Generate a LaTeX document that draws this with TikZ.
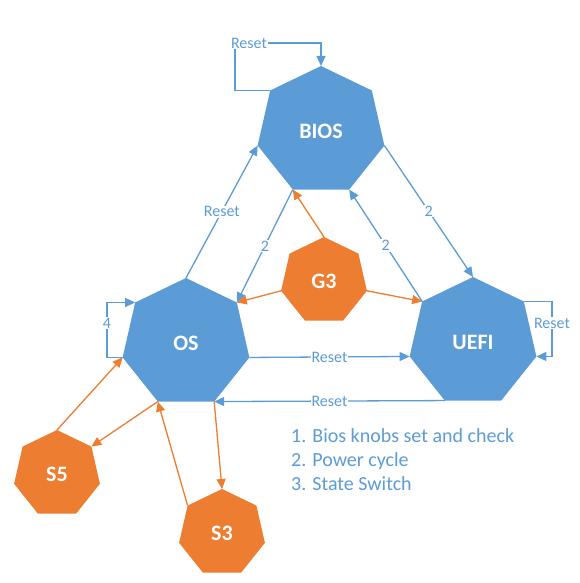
\documentclass[tikz,border=0pt]{standalone}
\usepackage{fontspec}
\setmainfont{Carlito}
\usepackage{tikz}
\usetikzlibrary{shapes.geometric,arrows.meta}
\definecolor{blue}{rgb}{0.36,0.61,0.84}
\definecolor{orange}{rgb}{0.93,0.49,0.19}

\begin{document}
\begin{tikzpicture}[x=1pt, y=-1pt,
  heptagon/.style={regular polygon, regular polygon sides=7, inner sep=0pt, outer sep=0pt, text=white, font=\fontsize{22}{26}\selectfont\bfseries},
  bstate/.style={heptagon, fill=blue, minimum size=130pt},
  ostate/.style={heptagon, fill=orange, minimum size=88pt},
  bline/.style={draw=blue, line width=1.3pt, -{Triangle[length=10pt,width=9pt]}},
  oline/.style={bline, draw=orange},
  lbl/.style={fill=white, text=blue, inner sep=1pt, font=\fontsize{16}{18}\selectfont}]
\useasboundingbox (0,0) rectangle (580,583);
%		\draw[help lines] (0,0) grid (580,583);
\node[bstate] (bios) at (321,131) {BIOS};
\node[bstate] (os) at (186,343) {OS};
\node[bstate] (uefi) at (473,342) {UEFI};
\node[ostate] (g3) at (324,281) {G3};
\node[ostate] (s5) at (57,474) {S5};
\node[ostate] (s3) at (222,533) {S3};
\coordinate (bios loop) at (235,43);
\coordinate (uefi loop) at (552,323);
\coordinate (os loop) at (107,323);
\draw[bline] (bios.corner 2) -| (bios loop) -| (bios.corner 1);
\draw[bline] (uefi.corner 7) -| (uefi loop) |- (uefi.corner 6);
\draw[bline] (os.corner 3) -| (os loop) |- (os.corner 2);
\draw[bline] (os.corner 1) -- node[lbl] {Reset} (bios.corner 3);
\draw[bline] (bios.corner 4) -- node[lbl] {2} (os.corner 7);
\draw[bline] (uefi.corner 2) -- node[lbl] {2} (bios.corner 5);
\draw[bline] (bios.corner 6) -- node[lbl] {2} (uefi.corner 1);
\draw[bline] (os.corner 6) -- node[lbl] {Reset} (uefi.corner 3);
\draw[bline] (uefi.corner 4) -- node[lbl] {Reset} (os.corner 5);
\draw[oline] (g3.corner 1) -- (bios.corner 4);
\draw[oline] (g3.corner 3) -- (os.corner 7);
\draw[oline] (g3.corner 6) -- (uefi.corner 2);
\draw[oline] (s5.corner 1) -- (os.corner 3);
\draw[oline] (os.corner 4) -- (s5.corner 7);
\draw[oline] (s3.corner 2) -- (os.corner 4);
\draw[oline] (os.corner 5) -- (s3.corner 1);
\node[lbl] at (249,43) {Reset};
\node[lbl] at (552,323) {Reset};
\node[lbl] at (107,323) {4};
\node[anchor=west, align=left, inner sep=0pt, text=blue, font=\fontsize{20}{24}\selectfont] (legend) at (291,460) {1. Bios knobs set and check\\2. Power cycle\\3. State Switch};
\end{tikzpicture}
\end{document}
